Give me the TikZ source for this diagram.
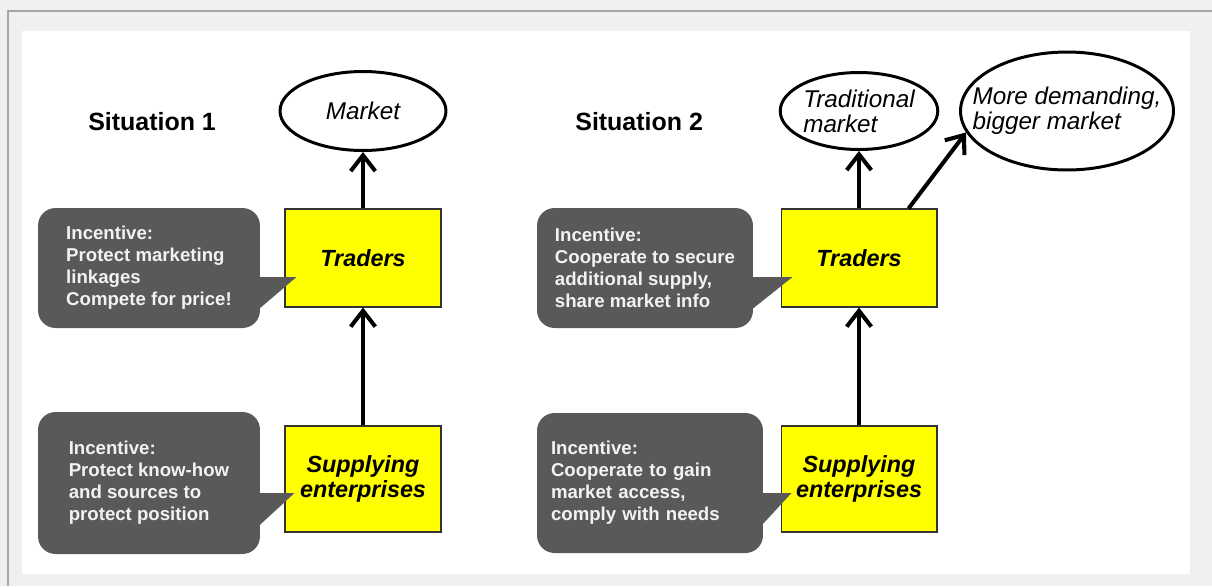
\documentclass[tikz,border=0pt]{standalone}
\usepackage{fontspec}
\setmainfont{Liberation Sans}
\usepackage{tikz}
\usetikzlibrary{arrows.meta,positioning,shapes.geometric,calc}
\definecolor{framegray}{RGB}{240,240,240}
\definecolor{rulegray}{RGB}{166,166,166}
\definecolor{bubblegray}{RGB}{89,89,89}
\definecolor{bubbletext}{RGB}{242,242,242}
\definecolor{boxyellow}{RGB}{255,255,0}
\definecolor{boxedge}{RGB}{51,51,51}

\begin{document}
\begin{tikzpicture}[
  x=0.02cm, y=-0.02cm,
  title/.style={font=\bfseries\fontsize{14.2}{17}\selectfont, anchor=base west, inner sep=0pt},
  box/.style={draw=boxedge, line width=0.6pt, fill=boxyellow, minimum width=3.12cm, align=center, font=\bfseries\itshape\fontsize{13.3}{14.2}\selectfont},
  oval/.style={ellipse, draw=black, line width=1.7pt, fill=white, inner sep=0pt, align=left, font=\itshape\fontsize{13.8}{14.2}\selectfont},
  bubble/.style={fill=bubblegray, rounded corners=10pt, text=bubbletext, align=left, font=\bfseries\fontsize{10.6}{12.5}\selectfont},
  arr/.style={-{Straight Barb[length=9pt,width=14pt]}, line width=2.3pt}
]
  \useasboundingbox (0,0) rectangle (1212,586);
  \fill[framegray] (0,0) rectangle (1212,586);
  \fill[white] (22,31) rectangle (1190,574);
  \draw[rulegray, line width=1.1pt] (7,11) -- (1212,11);
  \draw[rulegray, line width=1.1pt] (8,11) -- (8,586);

  % situation 1
  \node[title] (sit1) at (88,130) {Situation 1};
  \node[oval, minimum width=3.32cm, minimum height=1.58cm] (mkt1) at (363,111) {Market};
  \node[box, minimum height=1.96cm] (tr1) at (363,258) {Traders};
  \node[box, minimum height=2.12cm] (sup1) at (363,479) {Supplying\\enterprises};
  \node[bubble, minimum width=4.44cm, minimum height=2.4cm] (inc1a) at (149,268)
    {Incentive:\\Protect marketing\\linkages\\Compete for price!};
  \node[bubble, minimum width=4.44cm, minimum height=2.84cm] (inc1b) at (149,483)
    {Incentive:\\Protect know-how\\and sources to\\protect position};
  \fill[bubblegray] ($(inc1a.east)+(-6,9)$) -- ($(tr1.west)+(12,19)$) -- ($(inc1a.east)+(-6,45)$) -- cycle;
  \fill[bubblegray] ($(inc1b.east)+(-6,10)$) -- ($(sup1.west)+(10,14)$) -- ($(inc1b.east)+(-6,47)$) -- cycle;
  \draw[arr] (sup1) -- (tr1);
  \draw[arr] (tr1) -- (mkt1);

  % situation 2
  \node[title] (sit2) at (575,130) {Situation 2};
  \node[oval, minimum width=3.14cm, minimum height=1.54cm] (mkt2) at (859,111) {Traditional\\market};
  \node[oval, inner xsep=-12pt, minimum width=4.26cm, minimum height=2.36cm] (bigmkt) at (1067,111)
    {More demanding,\\bigger market};
  \node[box, minimum height=1.96cm] (tr2) at (859,258) {Traders};
  \node[box, minimum height=2.12cm] (sup2) at (859,479) {Supplying\\enterprises};
  \node[bubble, minimum width=4.32cm, minimum height=2.4cm] (inc2a) at (645,268)
    {Incentive:\\Cooperate to secure\\additional supply,\\share market info};
  \node[bubble, text width=3.96cm, minimum width=4.52cm, minimum height=2.8cm] (inc2b) at (650,483)
    {Incentive:\\Cooperate to gain\\market access,\\comply with needs};
  \fill[bubblegray] ($(inc2a.east)+(-6,9)$) -- ($(tr2.west)+(12,19)$) -- ($(inc2a.east)+(-6,45)$) -- cycle;
  \fill[bubblegray] ($(inc2b.east)+(-6,10)$) -- ($(sup2.west)+(11,14)$) -- ($(inc2b.east)+(-6,47)$) -- cycle;
  \draw[arr] (sup2) -- (tr2);
  \draw[arr] (tr2) -- (mkt2);
  \draw[arr] (tr2.45) -- (bigmkt.192);
\end{tikzpicture}
\end{document}
